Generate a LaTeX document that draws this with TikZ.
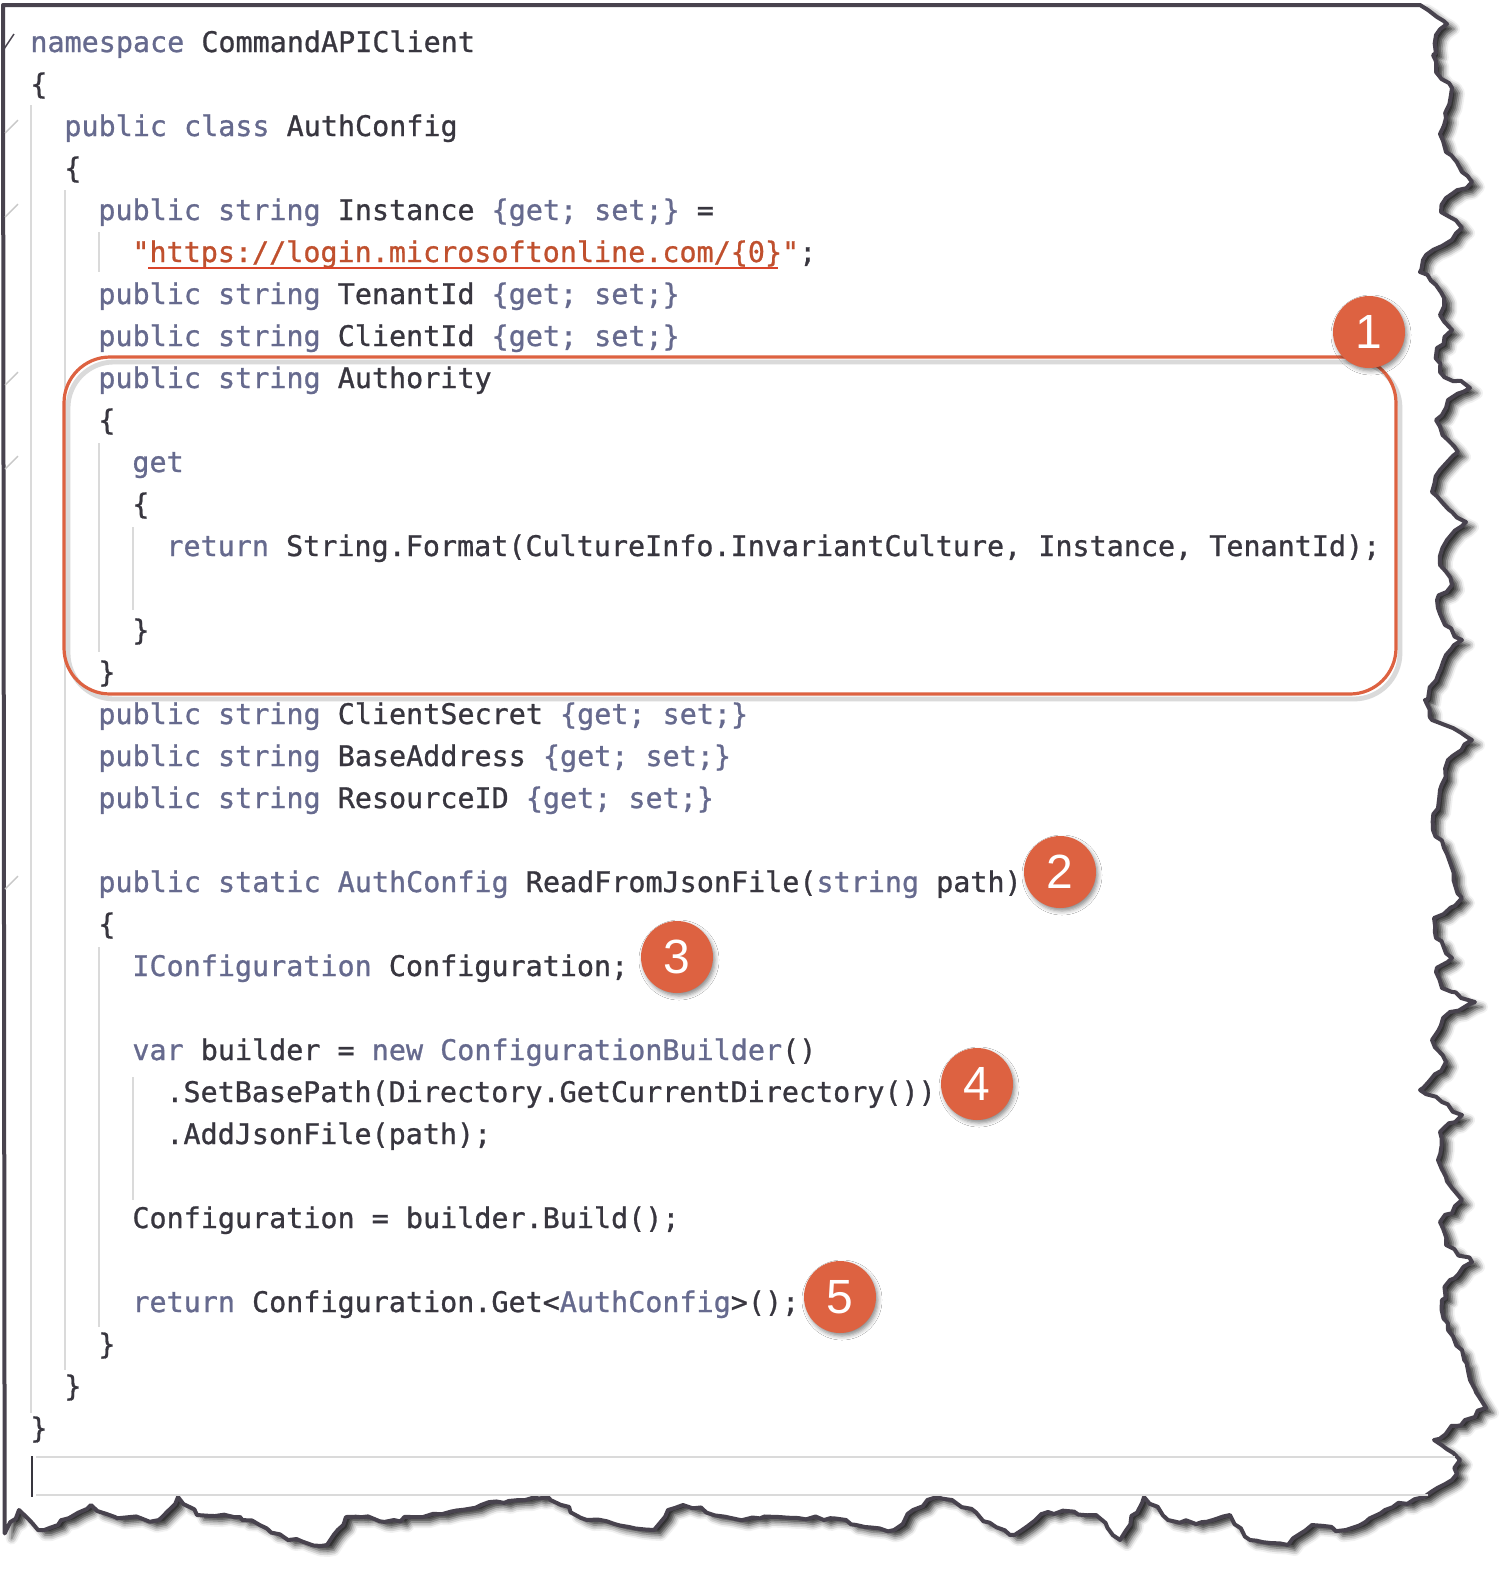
\documentclass[tikz,border=0pt]{standalone}
\usepackage{fontspec}
\setmonofont{DejaVu Sans Mono}[FakeBold=0.9]
\newfontfamily\badgefamily{Liberation Sans}
\usepackage{tikz}
\usetikzlibrary{shadows.blur, decorations.pathmorphing}
\definecolor{kwslate}{HTML}{666A8E}
\definecolor{codedark}{HTML}{38363F}
\definecolor{urlred}{HTML}{C0502E}
\definecolor{squiggle}{HTML}{D9442A}
\definecolor{badgeorange}{HTML}{DD6241}
\definecolor{guidegrey}{HTML}{DADADA}
\definecolor{foldgrey}{HTML}{C8C8C8}
\definecolor{edgedark}{HTML}{48434E}
\newcommand{\kw}[1]{\textcolor{kwslate}{#1}}
\newcommand{\urltxt}[1]{\textcolor{urlred}{#1}}
\pgfmathsetseed{7}

\begin{document}
\begin{tikzpicture}[x=0.5pt, y=-0.5pt,
  code/.style={anchor=base west, inner sep=0pt, text=codedark,
    font=\fontsize{14.2}{17}\selectfont\ttfamily},
  guide/.style={guidegrey, line width=0.8pt},
  foldmark/.style={foldgrey, line width=0.7pt},
  authbox/.style={badgeorange, line width=1.6pt, rounded corners=23pt},
  badge/.style={circle, fill=badgeorange, text=white, minimum size=36pt,
    inner sep=0pt, font=\badgefamily\fontsize{24}{24}\selectfont,
    blur shadow={shadow xshift=1pt, shadow yshift=-1.5pt,
      shadow blur radius=2pt, shadow opacity=45}}]
  \useasboundingbox (0,0) rectangle (1500,1571);
  % torn sheet
  \filldraw[fill=white, draw=edgedark, line width=2pt, line join=round,
    blur shadow={shadow xshift=3.5pt, shadow yshift=-2.5pt,
      shadow blur radius=3pt, shadow opacity=85}]
    decorate[decoration={random steps, segment length=4pt, amplitude=1.3pt}]{
    (1420,5) -- (1428,10) -- (1437,17) -- (1447,24) -- (1436,35) -- (1433,55)
    -- (1436,72) -- (1452,88) -- (1446,118) -- (1440,134) -- (1446,152)
    -- (1462,172) -- (1472,182) -- (1446,198) -- (1441,212) -- (1462,228)
    -- (1442,246) -- (1423,260) -- (1420,272) -- (1436,285) -- (1444,298)
    -- (1440,315) -- (1452,330) -- (1437,348) -- (1440,372) -- (1470,388)
    -- (1448,400) -- (1436,420) -- (1448,440) -- (1458,452) -- (1440,470)
    -- (1432,492) -- (1452,512) -- (1466,522) -- (1447,540) -- (1440,565)
    -- (1452,585) -- (1437,600) -- (1445,625) -- (1462,640) -- (1446,655)
    -- (1438,675) -- (1425,700) -- (1432,720) -- (1472,740) -- (1448,760)
    -- (1440,790) -- (1433,830) -- (1444,848) -- (1455,885) -- (1462,898)
    -- (1434,918) -- (1436,938) -- (1452,958) -- (1436,972) -- (1442,988)
    -- (1475,1002) -- (1450,1012) -- (1432,1040) -- (1446,1062) -- (1420,1090)
    -- (1442,1102) -- (1462,1115) -- (1440,1132) -- (1438,1160) -- (1452,1188)
    -- (1462,1200) -- (1440,1222) -- (1446,1245) -- (1472,1262) -- (1450,1280)
    -- (1442,1300) -- (1448,1330) -- (1462,1350) -- (1470,1380) -- (1486,1408)
    -- (1465,1420) -- (1434,1440) -- (1460,1460) -- (1452,1480) -- (1424,1497)
    -- (1385,1510) -- (1346,1530) -- (1312,1525) -- (1288,1545) -- (1250,1540)
    -- (1230,1515) -- (1202,1522) -- (1168,1520) -- (1144,1497) -- (1120,1540)
    -- (1096,1515) -- (1048,1512) -- (1010,1535) -- (952,1500) -- (937,1497)
    -- (913,1510) -- (894,1530) -- (865,1527) -- (846,1520) -- (798,1518)
    -- (731,1518) -- (683,1505) -- (668,1510) -- (654,1530) -- (587,1520)
    -- (548,1497) -- (519,1500) -- (481,1505) -- (423,1517) -- (394,1520)
    -- (346,1517) -- (327,1545) -- (288,1540) -- (240,1517) -- (197,1515)
    -- (178,1497) -- (159,1520) -- (115,1517) -- (91,1505) -- (58,1525)
    -- (38,1530) -- (19,1510) -- (8,1528) -- (3,1532)} -- (3,5) -- cycle;

  % indent guides
  \draw[guide] (31,105) -- (31,1413);
  \draw[guide] (65,190) -- (65,1370);
  \draw[guide] (99,232) -- (99,272);
  \draw[guide] (99,443) -- (99,652);
  \draw[guide] (133,527) -- (133,610);
  \draw[guide] (99,947) -- (99,1327);
  \draw[guide] (133,1077) -- (133,1200);
  % fold marks
  \draw[edgedark, line width=0.7pt] (4,49) -- ++(10,-15);
  \foreach \ly in {126,210,378,462,882}
    \draw[foldmark] (5,\ly+7) -- ++(13,-13);
  % current line
  \draw[guide, line width=1pt] (36,1457) -- (1455,1457);
  \draw[guide, line width=1pt] (36,1495) -- (1428,1495);
  \draw[codedark, line width=1.4pt] (32,1456) -- (32,1497);

  % code
  \node[code] (l0) at (30,52) {\kw{namespace} CommandAPIClient};
  \node[code] (l1) at (30,94) {\{};
  \node[code] (l2) at (64,136) {\kw{public class} AuthConfig};
  \node[code] (l3) at (64,178) {\{};
  \node[code] (l4) at (98,220) {\kw{public string} Instance \kw{\{get; set;\}} =};
  \node[code] (l5) at (132,262) {\urltxt{"https://login.microsoftonline.com/\{0\}"};};
  \node[code] (l6) at (98,304) {\kw{public string} TenantId \kw{\{get; set;\}}};
  \node[code] (l7) at (98,346) {\kw{public string} ClientId \kw{\{get; set;\}}};
  \node[code] (l8) at (98,388) {\kw{public string} Authority};
  \node[code] (l9) at (98,430) {\{};
  \node[code] (l10) at (132,472) {\kw{get}};
  \node[code] (l11) at (132,514) {\{};
  \node[code] (l12) at (166,556) {\kw{return} String.Format(CultureInfo.InvariantCulture, Instance, TenantId);};
  \node[code] (l14) at (132,640) {\}};
  \node[code] (l15) at (98,682) {\}};
  \node[code] (l16) at (98,724) {\kw{public string} ClientSecret \kw{\{get; set;\}}};
  \node[code] (l17) at (98,766) {\kw{public string} BaseAddress \kw{\{get; set;\}}};
  \node[code] (l18) at (98,808) {\kw{public string} ResourceID \kw{\{get; set;\}}};
  \node[code] (l20) at (98,892) {\kw{public static AuthConfig} ReadFromJsonFile(\kw{string} path)};
  \node[code] (l21) at (98,934) {\{};
  \node[code] (l22) at (132,976) {\kw{IConfiguration} Configuration;};
  \node[code] (l24) at (132,1060) {\kw{var} builder = \kw{new ConfigurationBuilder}()};
  \node[code] (l25) at (166,1102) {.SetBasePath(Directory.GetCurrentDirectory())};
  \node[code] (l26) at (166,1144) {.AddJsonFile(path);};
  \node[code] (l28) at (132,1228) {Configuration = builder.Build();};
  \node[code] (l30) at (132,1312) {\kw{return} Configuration.Get<\kw{AuthConfig}>();};
  \node[code] (l31) at (98,1354) {\}};
  \node[code] (l32) at (64,1396) {\}};
  \node[code] (l33) at (30,1438) {\}};
  \draw[squiggle, line width=1pt] (148,268) -- (778,268);

  % highlight box and call-outs
  \draw[guidegrey, line width=2.4pt, rounded corners=23pt] (68,362) rectangle (1400,699);
  \draw[authbox] (64,357) rectangle (1396,694);
  \node[badge] (b1) at (1369,332) {1};
  \node[badge] (b2) at (1060,872) {2};
  \node[badge] (b3) at (677,957) {3};
  \node[badge] (b4) at (977,1084) {4};
  \node[badge] (b5) at (840,1297) {5};
\end{tikzpicture}
\end{document}
